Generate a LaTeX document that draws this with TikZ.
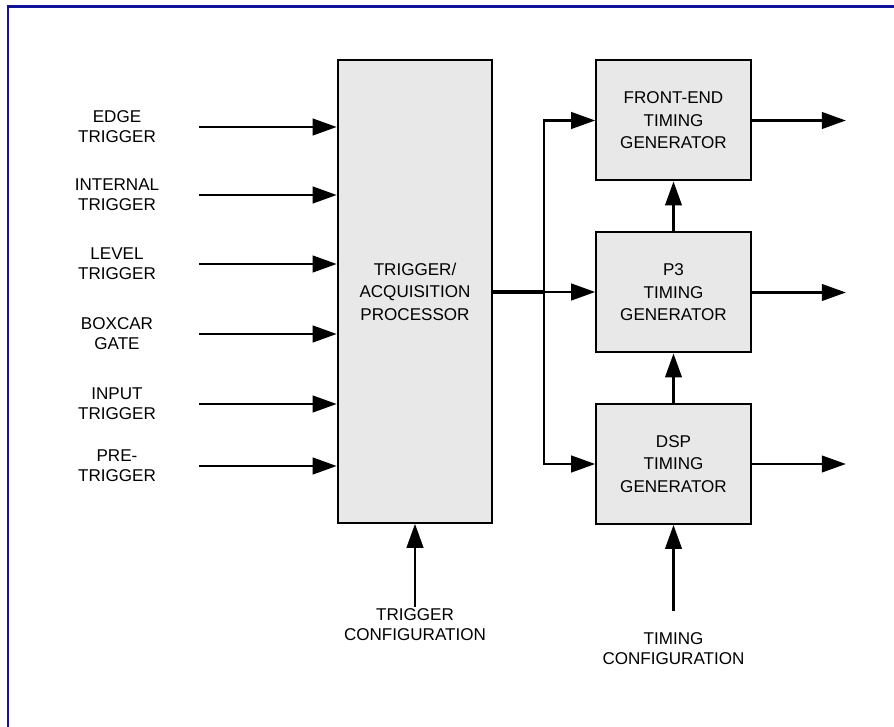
\documentclass[tikz,border=0pt]{standalone}
\usepackage{fontspec}
\setmainfont{Liberation Sans}
\usetikzlibrary{positioning, arrows.meta}
\definecolor{boxgray}{HTML}{E8E8E8}
\definecolor{frameblue}{HTML}{12129A}

\tikzset{
  block/.style={draw, fill=boxgray, line width=1.5pt, align=center,
                font=\fontsize{12.8}{16.9}\selectfont},
  sig/.style={align=center, inner sep=1pt, font=\fontsize{12.8}{15}\selectfont},
  arr/.style={line width=1.6pt, -{Triangle[length=18pt, width=12.5pt]}}
}

\begin{document}
\begin{tikzpicture}[x=0.75pt, y=-0.75pt]
    \useasboundingbox (0,0) rectangle (894,727);
    \draw[frameblue, line width=2pt] (8,727) -- (8,6.5) -- (894,6.5);

    % blocks
    \node[block, minimum width=116pt, minimum height=347pt] (proc) at (415,291.5)
      {TRIGGER/\\ACQUISITION\\PROCESSOR};
    \node[block, minimum width=116pt, minimum height=90pt] (fe) at (673.5,120.5)
      {FRONT-END\\TIMING\\GENERATOR};
    \node[block, minimum width=116pt, minimum height=90pt] (p3) at (673.5,292.5)
      {P3\\TIMING\\GENERATOR};
    \node[block, minimum width=116pt, minimum height=90pt] (dsp) at (673.5,464)
      {DSP\\TIMING\\GENERATOR};

    % trigger inputs
    \foreach \n/\y/\t in {1/127/{EDGE\\TRIGGER}, 2/195/{INTERNAL\\TRIGGER},
                          3/264/{LEVEL\\TRIGGER}, 4/334/{BOXCAR\\GATE},
                          5/404/{INPUT\\TRIGGER}, 6/466/{PRE-\\TRIGGER}} {
      \node[sig] (in\n) at (117,\y) {\t};
      \coordinate (src\n) at (199,\y);
      \draw[arr] (src\n) -- (src\n -| proc.west);
    }

    % processor to timing generators
    \coordinate (bus) at (544,292);
    \draw[line width=2.3pt] (proc.east |- bus) -- (bus);
    \draw[arr] (bus) -- (bus -| p3.west);
    \draw[arr] (bus) |- (fe.west);
    \draw[arr] (bus) |- (dsp.west);
    \draw[arr] (p3) -- (fe);
    \draw[arr] (dsp) -- (p3);

    % outputs
    \foreach \b in {fe, p3, dsp} {
      \coordinate (\b out) at ([xshift=70.5pt]\b.east);
      \draw[arr] (\b.east) -- (\b out);
    }

    % configuration
    \node[sig, anchor=north] (tcfg) at (415,607) {TRIGGER\\CONFIGURATION};
    \node[sig, anchor=north] (mcfg) at (673.5,631) {TIMING\\CONFIGURATION};
    \coordinate (mcin) at (673.5,611);
    \draw[arr] (tcfg) -- (proc);
    \draw[arr] (mcin) -- (dsp);
\end{tikzpicture}
\end{document}
